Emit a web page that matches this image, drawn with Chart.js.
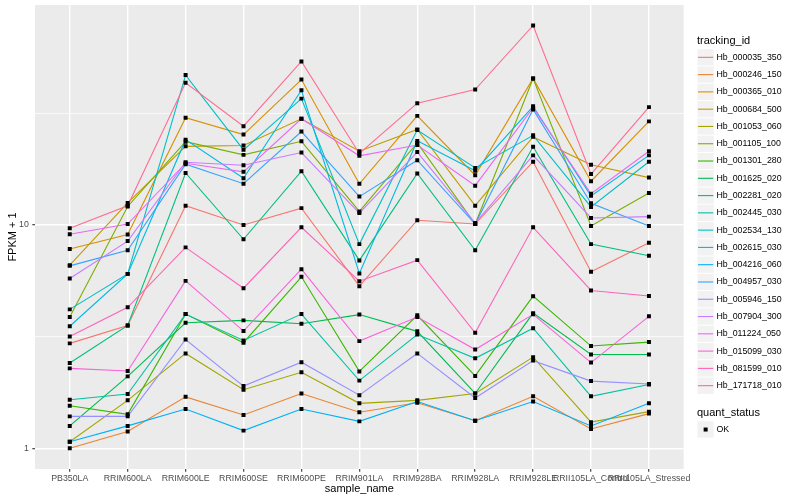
<!DOCTYPE html>
<html>
<head>
<meta charset="utf-8">
<script src="https://cdn.jsdelivr.net/npm/chart.js@4.4.1/dist/chart.umd.min.js"></script>
<style>
  body { margin: 0; background: #fff; }
</style>
</head>
<body>
<canvas id="myChart" width="800" height="500"></canvas>
<script>
// samples on the x axis
const samples = ['PB350LA', 'RRIM600LA', 'RRIM600LE', 'RRIM600SE', 'RRIM600PE', 'RRIM901LA',
  'RRIM928BA', 'RRIM928LA', 'RRIM928LE', 'RRII105LA_Control', 'RRII105LA_Stressed']

// FPKM + 1 per gene, one value per sample
const hb000035_350 = [2.95, 3.55, 12.2, 10.0, 11.9, 5.32, 10.5, 10.1, 19.2, 6.17, 8.33]
const hb000246_150 = [1.00, 1.19, 1.70, 1.41, 1.76, 1.45, 1.60, 1.33, 1.71, 1.22, 1.43]
const hb000365_010 = [7.80, 9.07, 30.2, 25.4, 44.8, 15.3, 30.8, 16.7, 45.3, 15.7, 29.1]
const hb000684_500 = [6.61, 12.55, 22.5, 22.7, 29.9, 21.4, 26.8, 12.2, 24.8, 18.6, 16.3]
const hb001053_060 = [1.07, 1.64, 2.66, 1.83, 2.19, 1.59, 1.64, 1.76, 2.56, 1.31, 1.46]
const hb001105_100 = [3.87, 12.1, 23.6, 20.6, 23.7, 11.5, 23.3, 10.1, 45.3, 9.9, 13.9]
const hb001301_280 = [1.55, 1.42, 3.99, 2.97, 5.86, 2.21, 3.94, 2.11, 4.80, 2.87, 2.99]
const hb001625_020 = [1.26, 2.10, 3.65, 3.74, 3.61, 3.97, 3.34, 1.76, 4.03, 2.63, 2.63]
const hb002281_020 = [2.41, 3.55, 17.1, 8.63, 17.4, 6.94, 17.0, 7.70, 22.4, 8.21, 7.28]
const hb002445_030 = [1.65, 1.75, 3.99, 3.04, 3.99, 2.01, 3.23, 2.53, 3.45, 1.71, 1.93]
const hb002534_130 = [4.19, 6.04, 46.9, 21.7, 36.8, 8.21, 26.6, 18.0, 25.2, 12.05, 19.2]
const hb002615_030 = [3.52, 6.04, 24.1, 16.2, 40.1, 6.07, 23.8, 17.5, 34.0, 13.5, 20.5]
const hb004216_060 = [1.07, 1.26, 1.50, 1.20, 1.50, 1.32, 1.62, 1.33, 1.62, 1.26, 1.59]
const hb004957_030 = [6.56, 7.70, 18.7, 15.3, 26.2, 13.4, 19.5, 10.1, 32.9, 12.5, 9.9]
const hb005946_150 = [1.39, 1.39, 3.07, 1.90, 2.43, 1.73, 2.66, 1.68, 2.47, 2.00, 1.94]
const hb007904_300 = [5.76, 8.47, 19.1, 18.5, 21.1, 11.3, 21.2, 10.2, 20.5, 10.75, 10.9]
const hb011224_050 = [9.09, 10.1, 18.9, 17.3, 29.9, 20.4, 22.8, 15.0, 33.5, 13.8, 21.4]
const hb015099_030 = [2.28, 2.22, 5.62, 3.35, 6.34, 3.02, 3.87, 2.77, 3.98, 2.42, 3.90]
const hb081599_010 = [3.17, 4.28, 7.94, 5.21, 9.76, 5.60, 6.96, 3.29, 9.76, 5.09, 4.81]
const hb171718_010 = [9.67, 12.2, 43.3, 27.7, 54.0, 20.9, 35.1, 40.4, 78.2, 16.9, 33.7]

const trackingIds = ['Hb_000035_350', 'Hb_000246_150', 'Hb_000365_010', 'Hb_000684_500', 'Hb_001053_060',
  'Hb_001105_100', 'Hb_001301_280', 'Hb_001625_020', 'Hb_002281_020', 'Hb_002445_030',
  'Hb_002534_130', 'Hb_002615_030', 'Hb_004216_060', 'Hb_004957_030', 'Hb_005946_150',
  'Hb_007904_300', 'Hb_011224_050', 'Hb_015099_030', 'Hb_081599_010', 'Hb_171718_010']
const seriesValues = [hb000035_350, hb000246_150, hb000365_010, hb000684_500, hb001053_060,
  hb001105_100, hb001301_280, hb001625_020, hb002281_020, hb002445_030,
  hb002534_130, hb002615_030, hb004216_060, hb004957_030, hb005946_150,
  hb007904_300, hb011224_050, hb015099_030, hb081599_010, hb171718_010]

// ggplot hue palette, 20 colours
const colors = ['#F8766D', '#EA8331', '#D89000', '#C09B00', '#A3A500', '#7CAE00', '#39B600', '#00BB4E',
  '#00BF7D', '#00C1A3', '#00BFC4', '#00BAE0', '#00B0F6', '#35A2FF', '#9590FF', '#C77CFF',
  '#E76BF3', '#FA62DB', '#FF62BC', '#FF6C91']

const yTicks = [1, Math.sqrt(10), 10, Math.sqrt(1000)]   // majors 1, 10 + ggplot minors

window.onload = () => {
    let datasets = []
    let allPoints = []
    seriesValues.forEach((vals, i) => {
        const pts = vals.map((v, j) => ({ x: j, y: v }))
        allPoints = allPoints.concat(pts)
        datasets.push({
            label: trackingIds[i],
            data: pts,
            borderColor: colors[i],
            borderWidth: 1.1,
            pointRadius: 0,
            tension: 0,
            order: 100 - i
        })
    })
    // points layer on top of every line, like geom_point after geom_line
    datasets.push({
        label: 'OK',
        data: allPoints,
        showLine: false,
        pointStyle: 'rect',
        pointRadius: 2.8,
        pointBackgroundColor: '#000',
        pointBorderWidth: 0,
        order: 0
    })

    const panelBg = {
        id: 'panelBg',
        beforeDraw(chart) {
            const a = chart.chartArea
            const c = chart.ctx
            c.save()
            c.fillStyle = '#EBEBEB'
            c.fillRect(a.left, a.top, a.right - a.left, a.bottom - a.top)
            c.restore()
        }
    }

    // ggplot style legends on the right
    const sideLegend = {
        id: 'sideLegend',
        afterDraw(chart) {
            const c = chart.ctx
            const x0 = 697, key = 17.28
            c.save()
            c.textBaseline = 'middle'
            c.fillStyle = '#000'
            c.font = '11px "Liberation Sans", Arial, sans-serif'
            c.fillText('tracking_id', x0, 41)
            trackingIds.forEach((id, i) => {
                const y0 = 48.7 + i * key
                c.fillStyle = '#F2F2F2'
                c.fillRect(x0 + 0.5, y0 + 0.5, key - 1, key - 1)
                c.strokeStyle = colors[i]
                c.lineWidth = 1.1
                c.beginPath()
                c.moveTo(x0 + 1, y0 + key / 2)
                c.lineTo(x0 + key - 1, y0 + key / 2)
                c.stroke()
                c.fillStyle = '#000'
                c.font = '8.8px "Liberation Sans", Arial, sans-serif'
                c.fillText(id, x0 + 19.5, y0 + key / 2)
            })
            c.font = '11px "Liberation Sans", Arial, sans-serif'
            c.fillText('quant_status', x0, 412.5)
            const yk = 420.9
            c.fillStyle = '#F2F2F2'
            c.fillRect(x0 + 0.5, yk + 0.5, key - 1, key - 1)
            c.fillStyle = '#000'
            c.fillRect(x0 + key / 2 - 2, yk + key / 2 - 2, 4, 4)
            c.font = '8.8px "Liberation Sans", Arial, sans-serif'
            c.fillText('OK', x0 + 19.5, yk + key / 2)
            c.restore()
        }
    }

    const isMajor = (c) => c.tick && (c.tick.value === 1 || c.tick.value === 10)

    const ctx = document.getElementById('myChart').getContext('2d')
    new Chart(ctx, {
        type: 'line',
        data: { datasets: datasets },
        plugins: [panelBg, sideLegend],
        options: {
            responsive: false,
            animation: false,
            layout: { padding: { top: 5, right: 116.3, left: 0, bottom: 0 } },
            plugins: { legend: { display: false }, tooltip: { enabled: false } },
            scales: {
                x: {
                    type: 'linear',
                    min: -0.6,
                    max: samples.length - 1 + 0.6,
                    afterBuildTicks: (s) => { s.ticks = samples.map((_, i) => ({ value: i })) },
                    afterFit: (s) => { s.height = 31; s.paddingLeft = 0; s.paddingRight = 0 },
                    border: { display: false },
                    grid: { color: '#fff', lineWidth: 1.4, tickColor: '#333', tickLength: 2.7, tickWidth: 1.1 },
                    ticks: {
                        autoSkip: false, maxRotation: 0, minRotation: 0, padding: 1.5,
                        color: '#4D4D4D', font: { family: 'Liberation Sans', size: 8.8 },
                        callback: (v) => samples[v]
                    },
                    title: { display: true, text: 'sample_name', color: '#000',
                        font: { family: 'Liberation Sans', size: 11 }, padding: { top: 0, bottom: 4.4 } }
                },
                y: {
                    type: 'logarithmic',
                    min: 0.808,
                    max: 96.6,
                    afterBuildTicks: (s) => { s.ticks = yTicks.map(v => ({ value: v })) },
                    afterFit: (s) => { s.width = 35; s.paddingTop = 0; s.paddingBottom = 0 },
                    border: { display: false },
                    grid: {
                        color: '#fff',
                        lineWidth: (c) => isMajor(c) ? 1.4 : 0.7,
                        tickColor: (c) => isMajor(c) ? '#333' : 'rgba(0,0,0,0)',
                        tickLength: 2.7, tickWidth: 1.1
                    },
                    ticks: {
                        padding: 3.5, color: '#4D4D4D', font: { family: 'Liberation Sans', size: 8.8 },
                        callback: (v) => (v === 1 || v === 10) ? String(v) : ''
                    },
                    title: { display: true, text: 'FPKM + 1', color: '#000',
                        font: { family: 'Liberation Sans', size: 11 }, padding: { top: 6, bottom: 0 } }
                }
            }
        }
    })
}
</script>
</body>
</html>
